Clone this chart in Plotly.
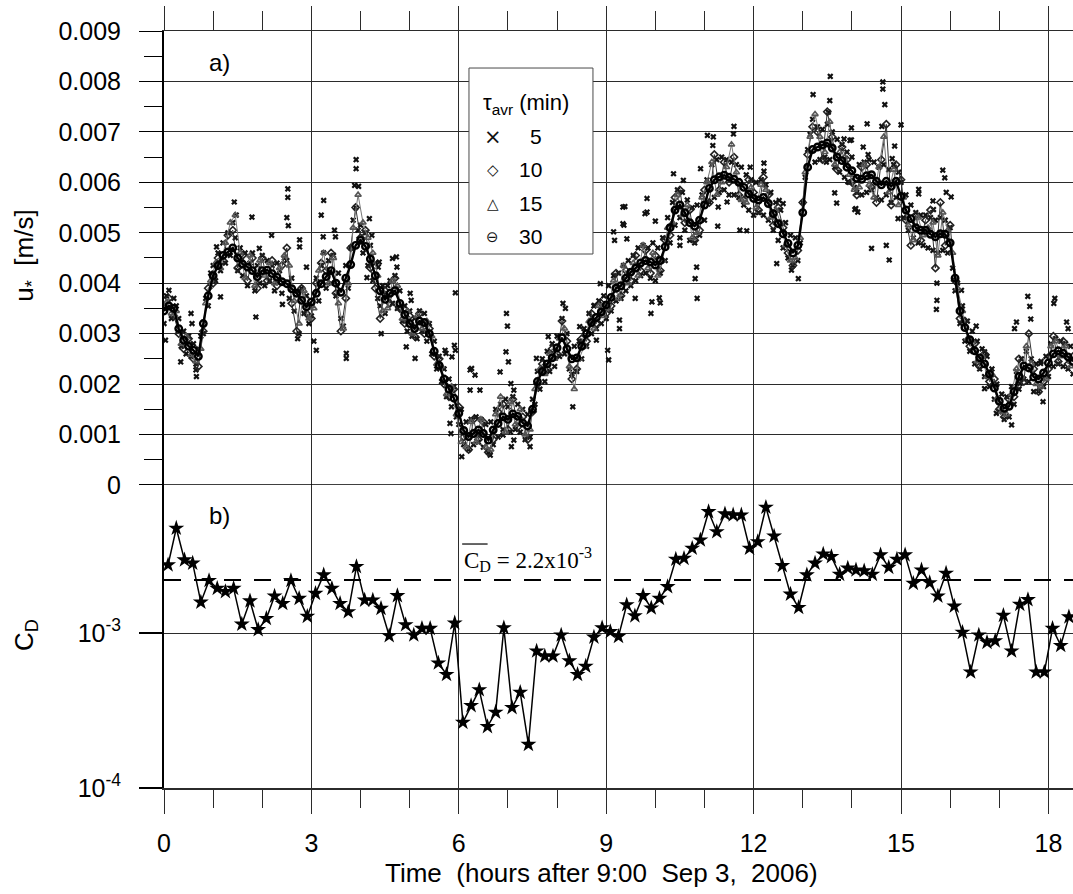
import numpy as np
import plotly.graph_objects as go

# ---------------------------------------------------------------------------
# Friction velocity u* (mm/s) for four averaging windows
# ---------------------------------------------------------------------------
# 30-min and 10-min averages, every 0.1 h from 0 to 18.5 h
ustar_30 = [3.45,3.55,3.5,3.1,2.87,2.75,2.67,2.55,3.2,3.75,
            4.15,4.35,4.55,4.62,4.7,4.5,4.38,4.32,4.25,4.13,
            4.25,4.26,4.19,4.12,4.03,3.99,3.89,3.8,3.66,3.53,
            3.63,3.8,3.99,4.13,4.25,4.0,3.82,4.1,4.37,4.75,
            4.85,4.73,4.48,4.15,3.85,3.68,3.8,3.85,3.6,3.38,
            3.2,3.1,3.25,3.22,3.0,2.65,2.37,2.1,1.9,1.72,
            1.42,1.08,0.96,1.02,1.09,1.02,0.89,1.09,1.22,1.35,
            1.3,1.41,1.36,1.23,1.17,1.5,2.05,2.25,2.4,2.52,
            2.72,2.92,2.7,2.5,2.52,2.75,3.0,3.22,3.32,3.43,
            3.57,3.72,3.9,3.95,4.1,4.22,4.3,4.4,4.45,4.42,
            4.36,4.45,4.72,5.1,5.45,5.55,5.4,5.2,5.13,5.25,
            5.55,5.88,6.05,6.11,6.14,6.1,6.06,6.0,5.9,5.77,
            5.68,5.65,5.7,5.58,5.38,5.18,4.98,4.79,4.6,4.75,
            5.4,6.3,6.65,6.7,6.74,6.78,6.68,6.5,6.43,6.3,
            6.23,6.08,6.06,6.13,6.15,6.02,5.95,6.02,5.92,6.02,
            5.72,5.45,5.28,5.1,5.05,5.05,4.97,4.92,4.98,4.97,
            4.8,4.1,3.45,3.12,2.88,2.66,2.52,2.4,2.2,1.92,
            1.66,1.52,1.56,1.85,2.15,2.36,2.32,2.14,2.1,2.22,
            2.42,2.6,2.66,2.61,2.54,2.45]

ustar_10 = [3.55,3.7,3.35,3.0,2.7,2.9,2.5,2.35,3.05,3.9,
            4.0,4.5,4.45,4.95,5.05,4.3,4.55,4.05,4.5,3.9,
            4.5,4.05,4.45,3.95,4.35,4.7,3.6,3.05,3.9,3.4,
            3.3,4.0,4.4,4.25,4.6,3.8,3.05,3.7,4.7,5.5,
            4.9,5.05,4.3,3.9,3.3,3.85,3.6,4.1,3.5,3.2,
            3.35,2.95,3.4,3.0,3.1,2.55,2.5,2.0,1.75,1.9,
            1.55,0.95,0.7,1.3,0.9,1.25,0.65,0.9,1.45,1.6,
            1.1,1.7,1.15,1.35,0.9,1.45,2.0,2.4,2.3,2.7,
            2.6,3.25,2.85,2.1,2.3,2.9,2.85,3.4,3.2,3.6,
            3.4,3.55,4.2,3.75,4.25,4.05,4.55,4.25,4.65,4.2,
            4.55,4.25,4.85,4.95,5.7,5.85,5.2,5.45,4.85,5.05,
            5.85,5.6,6.55,5.85,6.4,6.0,6.5,5.75,5.65,6.05,
            5.8,5.45,6.1,5.75,5.15,5.5,5.1,4.6,4.35,4.65,
            5.6,6.55,7.1,7.0,6.45,7.4,6.9,6.25,6.7,6.45,
            6.0,5.75,6.3,6.35,5.9,5.6,6.45,7.15,5.55,6.35,
            6.05,5.25,4.75,5.35,4.85,5.25,5.45,4.3,5.6,4.75,
            5.15,4.05,3.3,3.25,2.75,2.8,2.35,2.6,2.05,2.1,
            1.5,1.35,1.7,1.75,2.5,2.05,3.0,2.3,1.85,2.05,
            2.3,2.95,2.45,2.85,2.4,2.55]

# 15-min averages, every 0.1 h from 0.05 to 18.45 h
ustar_15 = [3.62,3.4,3.45,2.8,2.95,2.58,2.45,2.7,3.6,4.05,
            4.4,4.3,4.8,5.2,5.35,4.6,4.1,4.55,3.95,4.45,
            4.15,4.4,4.0,4.3,4.55,4.35,3.65,3.2,3.85,3.3,
            3.5,4.25,4.6,4.0,4.5,3.6,3.1,4.0,5.1,5.75,
            5.2,4.9,4.6,4.15,3.45,3.5,4.05,3.95,3.3,3.45,
            3.0,3.35,3.1,3.25,2.95,2.4,2.35,1.8,1.95,1.4,
            0.85,0.75,1.25,0.85,1.3,0.75,0.7,1.4,1.75,1.05,
            1.65,1.2,1.5,1.0,1.1,1.9,2.3,2.2,2.6,2.5,
            2.9,3.1,2.35,1.9,2.5,2.75,3.25,3.1,3.55,3.35,
            3.5,4.05,3.7,4.35,4.0,4.4,4.15,4.75,4.3,4.6,
            4.15,4.45,5.1,5.2,5.75,5.35,5.55,4.9,5.0,5.7,
            6.0,6.4,5.75,6.0,6.3,6.75,6.2,5.65,5.6,5.9,
            5.5,5.95,5.85,5.3,5.45,5.2,4.75,4.45,4.5,4.9,
            6.2,6.9,7.35,6.9,6.6,7.2,6.35,6.6,6.5,6.15,
            5.85,5.9,6.35,5.95,5.7,6.3,6.9,5.8,6.25,5.55,
            5.7,5.15,4.85,5.3,4.95,5.1,5.2,4.55,5.4,5.05,
            4.6,3.9,3.45,2.9,2.85,2.45,2.55,2.15,2.2,1.7,
            1.45,1.4,1.8,2.3,2.15,2.75,2.4,2.0,1.95,2.1,
            2.75,2.85,2.55,2.75,2.35]

# 5-min averages, every 0.05 h from 0 to 18.5 h
ustar_5 = [3.2,3.75,3.5,3.3,3.7,3.55,3.3,2.75,3.05,2.6,
           2.95,2.55,2.8,2.4,2.7,2.95,3.0,3.7,3.55,4.2,
           4.35,4.05,4.6,4.25,4.8,4.4,5.0,4.55,5.2,4.9,
           4.25,4.7,4.15,4.6,3.95,4.4,4.6,3.85,4.35,4.0,
           4.55,3.95,4.45,4.05,4.35,3.85,4.4,4.25,3.8,4.5,
           4.45,3.7,4.1,3.45,3.85,3.0,3.9,3.4,3.75,3.2,
           3.35,2.85,4.1,3.65,4.35,4.6,3.9,4.45,4.0,4.55,
           3.75,4.2,3.3,3.15,4.35,3.9,4.7,5.25,5.5,5.05,
           5.15,4.6,5.0,4.35,4.75,4.05,4.4,3.7,3.55,3.95,
           3.4,3.95,4.05,3.6,4.15,3.5,3.85,3.25,3.55,3.05,
           3.45,2.95,3.3,2.9,3.45,3.05,3.4,2.85,3.2,2.6,
           2.85,2.3,2.55,2.05,2.3,1.75,2.1,1.55,1.95,1.35,
           1.2,1.5,0.8,1.25,0.7,1.3,0.8,1.35,0.85,1.3,
           0.75,1.2,0.65,1.25,0.8,1.5,0.95,1.6,1.1,1.7,
           1.55,1.05,1.75,1.1,1.6,1.05,1.5,0.9,1.4,0.95,
           1.7,1.6,2.25,1.9,2.5,2.05,2.65,2.25,2.8,2.35,
           2.95,2.55,3.3,2.6,3.0,2.3,2.2,2.75,2.25,2.85,
           2.5,3.1,2.75,3.4,3.0,3.55,3.1,3.65,3.2,3.75,
           3.3,3.95,3.45,4.15,3.65,4.2,3.7,4.35,3.85,4.45,
           3.95,4.55,4.05,4.7,4.15,4.75,4.2,4.7,4.1,4.8,
           4.05,4.7,4.2,4.9,4.45,5.3,4.8,5.6,5.15,5.85,
           5.3,5.8,5.05,5.65,4.85,5.5,4.8,5.55,4.95,5.75,
           5.25,6.05,5.6,6.35,5.7,6.45,5.8,6.5,5.85,6.45,
           5.75,6.4,5.75,6.35,5.7,6.3,5.55,6.15,5.45,6.05,
           5.35,6.0,5.4,6.05,5.35,5.95,5.25,5.8,5.05,5.6,
           4.85,5.45,4.7,5.2,4.5,4.95,4.35,4.9,4.45,4.8,
           5.6,6.1,6.65,6.95,7.25,6.4,7.1,6.45,7.05,6.5,
           7.15,6.45,7.0,6.3,6.85,6.2,6.75,6.1,6.6,6.0,
           6.5,5.9,5.8,6.35,5.75,6.4,5.8,6.45,5.85,6.4,
           5.7,6.3,5.65,6.35,5.75,6.25,5.6,6.35,5.7,6.2,
           6.0,5.3,5.75,5.05,5.55,4.9,5.4,4.8,5.35,4.75,
           5.35,4.7,5.3,4.65,5.25,4.6,5.3,4.65,5.25,4.6,
           5.1,4.3,3.85,4.0,3.2,3.55,2.85,3.25,2.65,3.05,
           2.4,2.85,2.3,2.7,2.15,2.55,1.95,2.3,1.7,2.0,
           1.45,1.8,1.3,1.75,1.35,1.95,1.6,2.25,1.9,2.5,
           2.1,2.65,2.05,2.5,1.85,2.4,1.85,2.45,1.95,2.55,
           2.15,2.8,2.35,2.9,2.4,2.85,2.35,2.8,2.3,2.75,
           2.2]

# Additional 5-min samples away from the main band: (hour, u* in mm/s)
ustar_5_spread = [
    (0.03,2.87),(0.1,3.86),(0.34,2.44),(0.55,3.4),(0.57,3.2),(0.65,2.28),(0.66,2.15),
    (1.07,4.72),(1.15,3.73),(1.43,5.61),(1.47,5.35),(1.79,5.31),(1.87,3.33),(1.94,4.69),
    (2.19,4.95),(2.41,3.58),(2.5,5.3),(2.52,5.87),(2.52,5.7),(2.53,5.14),(2.72,2.9),
    (2.76,4.86),(2.76,4.72),(2.9,4.32),(3.1,2.67),(3.2,5.35),(3.24,4.92),(3.25,5.64),
    (3.47,5.05),(3.49,4.92),(3.71,2.61),(3.71,2.51),(3.88,5.94),(3.91,6.45),(3.91,6.27),
    (3.96,5.92),(4.13,4.11),(4.18,5.28),(4.23,4.95),(4.36,4.32),(4.38,4.42),(4.42,3.0),
    (4.65,4.49),(4.73,4.52),(4.74,4.32),(4.93,2.74),(5.01,3.8),(5.03,3.66),(5.11,2.51),
    (5.72,2.67),(5.74,2.61),(5.82,1.22),(5.84,1.02),(5.86,2.54),(5.91,2.77),(5.93,3.81),
    (5.93,2.67),(6.06,0.56),(6.23,2.28),(6.23,1.88),(6.26,2.31),(6.33,2.18),(6.43,1.88),
    (6.64,0.59),(6.84,2.24),(6.9,0.99),(6.96,2.64),(6.97,3.4),(6.99,3.15),(7.01,2.44),
    (7.06,2.01),(7.07,0.76),(7.12,1.88),(7.12,0.89),(7.45,0.76),(7.58,2.51),(7.82,2.94),
    (8.12,3.6),(8.17,3.5),(8.32,1.55),(8.46,3.14),(8.76,3.56),(8.8,2.87),(8.88,3.99),
    (9.03,2.67),(9.05,2.48),(9.15,5.02),(9.17,4.85),(9.27,3.27),(9.27,3.1),(9.34,5.51),
    (9.34,5.18),(9.36,5.15),(9.38,5.52),(9.42,4.88),(9.59,3.7),(9.79,5.38),(9.83,5.68),
    (9.83,5.41),(9.91,3.4),(9.93,3.63),(10.0,5.23),(10.08,3.71),(10.1,3.61),(10.37,6.17),
    (10.5,4.9),(10.5,4.75),(10.57,6.04),(10.81,4.09),(10.84,4.32),(10.85,3.7),(10.92,6.27),
    (11.06,6.93),(11.17,6.73),(11.18,6.9),(11.27,5.13),(11.28,5.51),(11.46,5.61),
    (11.59,6.96),(11.6,7.11),(11.72,5.05),(11.86,5.04),(11.93,6.3),(12.21,6.38),
    (12.21,6.22),(12.47,4.39),(12.52,5.64),(12.6,5.58),(12.77,4.26),(12.91,4.09),
    (13.21,7.74),(13.48,6.4),(13.52,7.39),(13.55,7.62),(13.56,8.1),(13.65,5.79),
    (13.69,5.59),(13.84,6.86),(13.92,6.01),(13.96,6.83),(13.99,7.08),(13.99,6.84),
    (14.06,5.46),(14.08,5.48),(14.12,5.41),(14.23,6.7),(14.31,7.16),(14.33,6.55),
    (14.4,4.69),(14.61,7.11),(14.63,7.99),(14.63,7.85),(14.67,7.54),(14.7,4.75),
    (14.76,4.46),(14.82,6.47),(14.87,6.72),(14.94,5.28),(15.0,7.14),(15.36,5.86),
    (15.36,5.77),(15.65,5.63),(15.66,5.46),(15.72,3.48),(15.73,4.0),(15.73,3.66),
    (15.85,6.24),(15.89,6.09),(15.92,5.8),(16.02,5.71),(16.23,3.86),(16.53,3.15),
    (16.7,1.91),(16.7,2.64),(16.94,1.42),(17.25,1.19),(17.31,3.1),(17.35,3.23),
    (17.42,2.01),(17.58,3.74),(17.62,3.54),(17.64,3.29),(17.84,2.41),(17.89,1.65),
    (18.11,3.6),(18.13,3.7),(18.37,3.23),(18.4,3.1)]

# ---------------------------------------------------------------------------
# Drag coefficient C_D (x 1e-3), 10-min intervals
# ---------------------------------------------------------------------------
cd_e3 = [2.75,4.74,2.96,2.82,1.58,2.18,1.94,1.85,1.94,1.14,
         1.61,1.05,1.24,1.73,1.55,2.18,1.67,1.28,1.80,2.37,
         1.94,1.55,1.37,2.68,1.63,1.63,1.44,0.96,1.74,1.13,
         0.97,1.07,1.07,0.64,0.54,1.16,0.265,0.34,0.43,0.249,
         0.308,1.08,0.33,0.414,0.191,0.765,0.71,0.71,0.97,0.66,
         0.54,0.61,0.94,1.08,1.02,0.95,1.52,1.29,1.74,1.45,
         1.67,1.99,2.99,3.03,3.52,3.98,6.06,4.50,5.86,5.77,
         5.77,3.52,3.88,6.47,4.22,2.72,1.78,1.46,2.37,2.82,
         3.23,3.11,2.39,2.62,2.55,2.52,2.39,3.19,2.65,2.99,
         3.19,2.09,2.55,2.11,1.73,2.43,1.49,1.01,0.56,0.97,
         0.87,0.89,1.30,0.765,1.53,1.64,0.56,0.56,1.07,0.83,
         1.27]
cd_mean = 2.2e-3

# Axis labels
u_ticks = [0, 0.001, 0.002, 0.003, 0.004, 0.005, 0.006, 0.007, 0.008, 0.009]
u_ticktext = ["0", "0.001", "0.002", "0.003", "0.004", "0.005", "0.006",
              "0.007", "0.008", "0.009"]
cd_ticks = [1e-4, 1e-3]
cd_ticktext = ["10<sup>-4</sup>", "10<sup>-3</sup>"]
hour_ticks = [0, 3, 6, 9, 12, 15, 18]
window_names = ["5", "10", "15", "30"]
window_keys = ["\u00d7", "\u25c7", "\u25b3", "\u2296"]

# ---------------------------------------------------------------------------
# Time grids (hours after 9:00)
# ---------------------------------------------------------------------------
hours_01 = np.arange(len(ustar_30)) / 10.0
hours_15 = np.arange(len(ustar_15)) / 10.0 + 0.05
hours_005 = np.arange(len(ustar_5)) / 20.0
spread_t = np.array([p[0] for p in ustar_5_spread])
spread_u = np.array([p[1] for p in ustar_5_spread])
hours_cd = (np.arange(len(cd_e3)) + 0.5) / 6.0

mm = 1e-3
t5 = np.concatenate([hours_005, spread_t])
u5 = np.concatenate([np.array(ustar_5), spread_u]) * mm

FONT = "Arial, Liberation Sans, sans-serif"
X_END = 18.5

fig = go.Figure()

fig.add_trace(go.Scatter(
    x=t5, y=u5, mode="markers", name=window_names[0],
    marker=dict(symbol="x", size=5.5, color="#111111", line=dict(width=0)),
    xaxis="x", yaxis="y"))
fig.add_trace(go.Scatter(
    x=hours_01, y=np.array(ustar_10) * mm, mode="lines+markers", name=window_names[1],
    line=dict(color="#333333", width=1),
    marker=dict(symbol="diamond-open", size=5.5, color="#222222", line=dict(width=1.6)),
    xaxis="x", yaxis="y"))
fig.add_trace(go.Scatter(
    x=hours_15, y=np.array(ustar_15) * mm, mode="lines+markers", name=window_names[2],
    line=dict(color="#777777", width=1),
    marker=dict(symbol="triangle-up-open", size=5.5, color="#555555", line=dict(width=1.6)),
    xaxis="x", yaxis="y"))
fig.add_trace(go.Scatter(
    x=hours_01, y=np.array(ustar_30) * mm, mode="lines+markers", name=window_names[3],
    line=dict(color="#000000", width=2.4),
    marker=dict(symbol="circle-open", size=6.5, color="#000000", line=dict(width=2.4)),
    xaxis="x", yaxis="y"))

# Panel b: mean drag coefficient and 10-min values
fig.add_trace(go.Scatter(
    x=[0, X_END], y=[cd_mean, cd_mean], mode="lines",
    line=dict(color="#000000", width=2, dash="17px,13px"),
    xaxis="x2", yaxis="y2", hoverinfo="skip"))
fig.add_trace(go.Scatter(
    x=hours_cd, y=np.array(cd_e3) * mm, mode="lines+markers",
    line=dict(color="#000000", width=1.5),
    marker=dict(symbol="star", size=12, color="#000000", line=dict(width=0)),
    xaxis="x2", yaxis="y2"))

GRID = "#2b2b2b"
SPLIT = 0.4003

fig.update_layout(
    width=1073, height=894,
    template="none",
    paper_bgcolor="white", plot_bgcolor="white",
    margin=dict(l=164, r=0, t=31, b=106, autoexpand=False),
    font=dict(family=FONT, size=25, color="#000000"),
    showlegend=False,
    xaxis=dict(
        domain=[0, 1], anchor="y", side="top", range=[0, X_END],
        tickmode="array", tickvals=hour_ticks, showticklabels=False,
        ticks="outside", ticklen=24, tickwidth=1, tickcolor=GRID,
        minor=dict(ticks="outside", ticklen=19, tickwidth=1, tickcolor=GRID,
                   dtick=1, tick0=0, showgrid=False),
        showgrid=True, gridcolor=GRID, gridwidth=1,
        showline=True, linecolor=GRID, linewidth=1,
        zeroline=False, automargin=False,
    ),
    yaxis=dict(
        domain=[SPLIT, 1], anchor="x", range=[0, 0.009],
        tickmode="array", tickvals=u_ticks, ticktext=u_ticktext,
        ticks="outside", ticklen=23, tickwidth=1, tickcolor="#000000",
        minor=dict(ticks="outside", ticklen=18, tickwidth=1, tickcolor="#000000",
                   dtick=0.0005, tick0=0, showgrid=False),
        tickfont=dict(size=25), ticklabelstandoff=13,
        showgrid=True, gridcolor=GRID, gridwidth=1,
        showline=True, linecolor="#000000", linewidth=2,
        zeroline=False, automargin=False,
    ),
    xaxis2=dict(
        domain=[0, 1], anchor="y2", range=[0, X_END],
        tickmode="array", tickvals=hour_ticks,
        ticks="outside", ticklen=24, tickwidth=1, tickcolor=GRID,
        minor=dict(ticks="outside", ticklen=18, tickwidth=1, tickcolor=GRID,
                   dtick=1, tick0=0, showgrid=False),
        tickfont=dict(size=25), ticklabelstandoff=8,
        showgrid=True, gridcolor=GRID, gridwidth=1,
        showline=True, linecolor=GRID, linewidth=1.5,
        zeroline=False, automargin=False,
    ),
    yaxis2=dict(
        domain=[0, SPLIT], anchor="x2", type="log", range=[-4, -2.045],
        tickmode="array", tickvals=cd_ticks, ticktext=cd_ticktext,
        ticks="outside", ticklen=23, tickwidth=1.5, tickcolor="#000000",
        tickfont=dict(size=25), ticklabelstandoff=13,
        showgrid=True, gridcolor=GRID, gridwidth=1,
        showline=True, linecolor="#000000", linewidth=2,
        zeroline=False, automargin=False,
    ),
)

# Boundary between the two panels (u* = 0)
fig.add_shape(type="line", xref="x domain", yref="y", x0=0, x1=1, y0=0, y1=0,
              line=dict(color="#000000", width=1.2))
# Overbar of the mean-C_D label
fig.add_shape(type="line", xref="paper", yref="paper", x0=0.328, x1=0.356,
              y0=0.3223, y1=0.3223, line=dict(color="#000000", width=1.2))
# Key box for the averaging windows
fig.add_shape(type="rect", xref="paper", yref="paper",
              x0=0.3355, x1=0.4719, y0=0.7054, y1=0.9511, layer="above",
              fillcolor="white", line=dict(color="#4a4a4a", width=1))

ann = [
    dict(text="a)", x=0.047, y=0.959, xanchor="left", yanchor="middle",
         font=dict(size=24)),
    dict(text="b)", x=0.047, y=0.3606, xanchor="left", yanchor="middle",
         font=dict(size=24)),
    dict(text="C<sub>D</sub> = 2.2x10<sup>-3</sup>", x=0.328, y=0.302,
         xanchor="left", yanchor="middle",
         font=dict(family="Times New Roman, Liberation Serif, serif", size=23)),
    dict(text="u<sub>*</sub>\u00a0\u00a0[m/s]", x=-0.152, y=0.703, textangle=-90,
         xanchor="center", yanchor="middle", font=dict(size=26)),
    dict(text="C<sub>D</sub>", x=-0.153, y=0.202, textangle=-90,
         xanchor="center", yanchor="middle", font=dict(size=26)),
    dict(text="Time\u00a0\u00a0(hours after 9:00\u00a0\u00a0Sep 3,\u00a0\u00a02006)",
         x=0.481, y=-0.112, xanchor="center", yanchor="middle",
         font=dict(size=26)),
    dict(text="\u03c4<sub>avr</sub> (min)", x=0.3487, y=0.9036,
         xanchor="left", yanchor="middle", font=dict(size=22)),
]
key_rows_y = [0.86, 0.8164, 0.7715, 0.7279]
key_sizes = [21, 15, 15, 15]
for name, glyph, ky, ks in zip(window_names, window_keys, key_rows_y, key_sizes):
    ann.append(dict(text=glyph, x=0.3619, y=ky, xanchor="center", yanchor="middle",
                    font=dict(family="DejaVu Sans", size=ks, color="#111111")))
    ann.append(dict(text=name, x=0.418, y=ky, xanchor="right", yanchor="middle",
                    font=dict(size=21)))
for a in ann:
    a.update(xref="paper", yref="paper", showarrow=False)
    fig.add_annotation(**a)

fig.write_html("out.html")
